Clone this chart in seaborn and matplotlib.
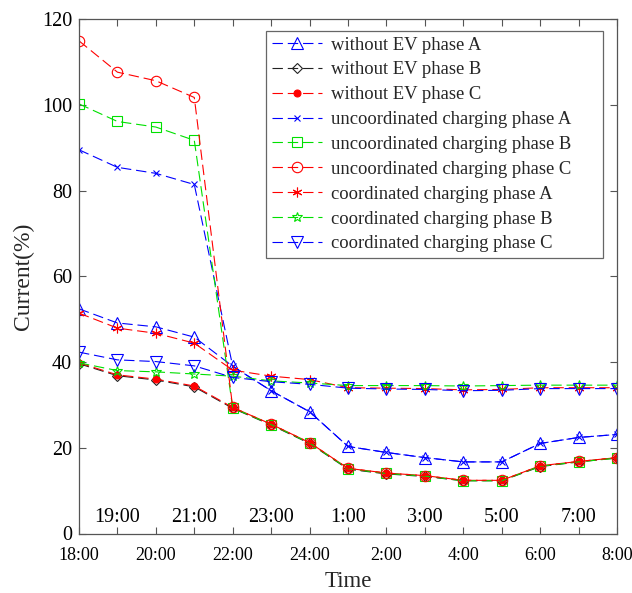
import matplotlib
matplotlib.use("Agg")
import matplotlib.pyplot as plt
import seaborn as sns
import pandas as pd
from matplotlib.lines import Line2D

# ---------------- data ----------------
times = ["18:00", "19:00", "20:00", "21:00", "22:00", "23:00", "24:00", "1:00",
         "2:00", "3:00", "4:00", "5:00", "6:00", "7:00", "8:00"]
even_labels = ["18:00", "20:00", "22:00", "24:00", "2:00", "4:00", "6:00", "8:00"]
odd_labels = ["19:00", "21:00", "23:00", "1:00", "3:00", "5:00", "7:00"]
y_ticks = [0, 20, 40, 60, 80, 100, 120]

without_A = [52.4, 49.1, 48.2, 45.8, 39.0, 33.3, 28.4, 20.3, 18.9, 17.7, 16.7, 16.7, 21.0, 22.4, 23.1]
without_B = [39.6, 36.8, 35.8, 34.2, 29.2, 25.3, 21.0, 15.0, 13.9, 13.3, 12.3, 12.3, 15.6, 16.7, 17.6]
without_C = [39.8, 37.0, 36.0, 34.4, 29.4, 25.5, 21.2, 15.2, 14.1, 13.5, 12.4, 12.4, 15.8, 16.8, 17.7]
uncoord_A = [89.5, 85.4, 84.0, 81.4, 39.0, 33.3, 28.4, 20.3, 18.9, 17.7, 16.7, 16.7, 21.0, 22.4, 23.1]
uncoord_B = [100.2, 96.1, 94.8, 91.7, 29.3, 25.4, 21.1, 15.1, 14.0, 13.4, 12.3, 12.3, 15.7, 16.7, 17.6]
uncoord_C = [114.9, 107.6, 105.6, 101.7, 29.4, 25.5, 21.2, 15.2, 14.1, 13.5, 12.4, 12.4, 15.8, 16.8, 17.7]
coord_A = [51.4, 47.9, 46.7, 44.4, 38.1, 36.7, 35.9, 34.0, 33.9, 33.8, 33.5, 33.6, 34.0, 34.0, 34.0]
coord_B = [39.8, 38.0, 37.7, 37.2, 36.7, 35.6, 35.1, 34.5, 34.5, 34.5, 34.4, 34.5, 34.6, 34.6, 34.6]
coord_C = [42.3, 40.5, 40.1, 39.1, 36.4, 35.4, 34.8, 33.9, 33.7, 33.6, 33.3, 33.4, 33.8, 33.8, 33.8]

series_names = ["without EV phase A", "without EV phase B", "without EV phase C",
                "uncoordinated charging phase A", "uncoordinated charging phase B",
                "uncoordinated charging phase C", "coordinated charging phase A",
                "coordinated charging phase B", "coordinated charging phase C"]
series_values = [without_A, without_B, without_C, uncoord_A, uncoord_B, uncoord_C,
                 coord_A, coord_B, coord_C]

# ---------------- styles ----------------
BLUE, RED, GREEN, BLACK = "#0000ff", "#ff0000", "#00e000", "#222222"
asterisk = (6, 2, 0)
styles = [
    dict(color=BLUE, marker="^", ms=8, mfc="none"),
    dict(color=BLACK, marker="D", ms=5, mfc="none"),
    dict(color=RED, marker="o", ms=5, mfc=RED),
    dict(color=BLUE, marker="x", ms=4.5, mfc="none"),
    dict(color=GREEN, marker="s", ms=7, mfc="none"),
    dict(color=RED, marker="o", ms=7.5, mfc="none"),
    dict(color=RED, marker=asterisk, ms=7, mfc="none"),
    dict(color=GREEN, marker="*", ms=7, mfc="none"),
    dict(color=BLUE, marker="v", ms=8, mfc="none"),
]
DASH = (0, (7.5, 3.5))

sns.set_theme(style="ticks")
plt.rcParams["font.family"] = ["Liberation Serif", "DejaVu Serif"]
plt.rcParams["lines.scale_dashes"] = False

W, H = 632, 593
fig = plt.figure(figsize=(W / 100, H / 100), dpi=100)
ax = fig.add_axes([79 / W, 1 - 533.5 / H, (617 - 79) / W, (533.5 - 19) / H])

x_pos = list(range(len(times)))
handles = []
for name, vals, st in zip(series_names, series_values, styles):
    df = pd.DataFrame({"x": x_pos, "y": vals})
    sns.lineplot(data=df, x="x", y="y", ax=ax, color=st["color"], marker=st["marker"],
                 markersize=st["ms"], markerfacecolor=st["mfc"],
                 markeredgecolor=st["color"], markeredgewidth=0.8,
                 linewidth=0.8, dashes=False, linestyle=DASH, legend=False)
    handles.append(Line2D([], [], color=st["color"], marker=st["marker"], markersize=st["ms"],
                          markerfacecolor=st["mfc"], markeredgecolor=st["color"],
                          markeredgewidth=0.8, linewidth=0.8, linestyle=DASH))

ax.set_xlim(0, len(times) - 1)
ax.set_ylim(0, 120)
ax.set_yticks(y_ticks)
ax.set_yticklabels([str(v) for v in y_ticks])

even_pos = [times.index(t) for t in even_labels]
odd_pos = [times.index(t) for t in odd_labels]
ax.set_xticks(even_pos)
ax.set_xticklabels(even_labels)
ax.set_xticks(odd_pos, minor=True)
ax.set_xticklabels(odd_labels, minor=True)

spine_col = "#555555"
for s in ax.spines.values():
    s.set_color(spine_col)
    s.set_linewidth(0.9)
ax.tick_params(axis="both", which="both", direction="in", top=True, right=True,
               length=5, width=0.8, color=spine_col, labelcolor="black")
ax.tick_params(axis="x", which="major", pad=9.5, labelsize=13)
ax.tick_params(axis="x", which="minor", pad=-18, labelsize=14.5)
ax.tick_params(axis="y", pad=5, labelsize=14.5)

ax.set_xlabel("Time", fontsize=16.5, labelpad=5.5)
ax.set_ylabel("Current(%)", fontsize=17, labelpad=5.5)

leg_x0, leg_x1 = 266 / W, 603 / W
leg_top = 1 - 31 / H
leg = ax.legend(handles, series_names, loc="upper left",
                bbox_to_anchor=(leg_x0, leg_top - 0.3, leg_x1 - leg_x0, 0.3),
                bbox_transform=fig.transFigure, mode="expand",
                borderaxespad=0, fontsize=13.4, frameon=True, fancybox=False,
                handlelength=2.7, handletextpad=0.5, labelspacing=0.42,
                borderpad=0.3, numpoints=1)
leg.get_frame().set_edgecolor("#666666")
leg.get_frame().set_linewidth(0.9)
leg.get_frame().set_alpha(1)

fig.savefig("out.png", dpi=100)
